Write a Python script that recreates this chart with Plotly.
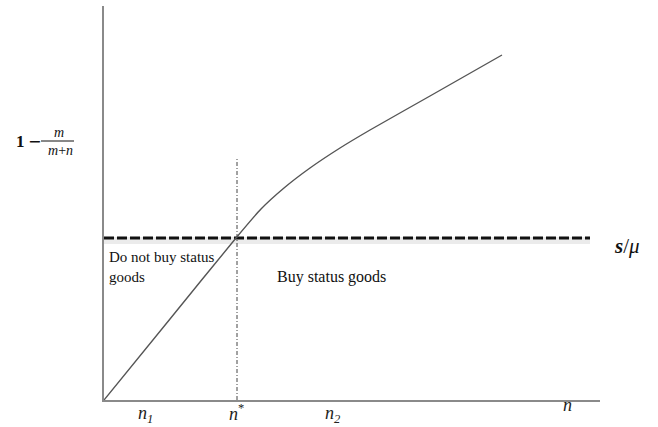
import plotly.graph_objects as go

# Curve values (n on x, 1 - m/(m+n) on y)
curve_x = [0, 66, 132, 157, 180, 206, 236, 266, 326, 398]
curve_y = [0, 81, 162, 191, 212, 232, 252, 270, 304, 345]
threshold = 162          # s/mu level
n_star = 133             # n* position
n_star_top = 242         # top of the n* guide line
x_tick_pos = [0.083, 0.268, 0.462, 0.935]      # paper fractions
x_tick_y = [-0.036, -0.031, -0.036, -0.013]
x_tick_text = ["<i>n</i><sub><i>1</i></sub>", "<i>n</i><sup>*</sup>", "<i>n</i><sub><i>2</i></sub>", "<i>n</i>"]
x_max, y_max = 496, 394
thr_end = 486

FONT = "Liberation Serif, Times New Roman, serif"

fig = go.Figure()
# shadow under dashed threshold
fig.add_trace(go.Scatter(x=[0, thr_end], y=[threshold - 2.5, threshold - 2.5], mode="lines",
                         line=dict(color="rgba(0,0,0,0.08)", width=7), hoverinfo="skip"))
fig.add_trace(go.Scatter(x=[0, thr_end], y=[threshold, threshold], mode="lines",
                         line=dict(color="#111111", width=3.2, dash="10px,3px"), hoverinfo="skip"))
fig.add_trace(go.Scatter(x=[n_star, n_star], y=[0, n_star_top], mode="lines",
                         line=dict(color="#444444", width=1, dash="4px,2px,1px,2px"), hoverinfo="skip"))
fig.add_trace(go.Scatter(x=curve_x, y=curve_y, mode="lines",
                         line=dict(color="#555555", width=1.4, shape="spline", smoothing=0.6),
                         hoverinfo="skip"))


def px_x(p):
    return (p - 104) / 496


def px_y(p):
    return (400 - p) / 394


ann = []
ann.append(dict(x=3, y=133, text="Do not buy status<br>goods", xanchor="left", yanchor="middle",
                align="left", showarrow=False, font=dict(family=FONT, size=15, color="#111")))
ann.append(dict(x=171, y=123, text="Buy status goods", xanchor="left", yanchor="middle",
                showarrow=False, font=dict(family=FONT, size=16, color="#111")))
ann.append(dict(x=px_x(627), y=px_y(246), xref="paper", yref="paper",
                text="<i><b>s</b></i>/<i>μ</i>", xanchor="center", yanchor="middle",
                showarrow=False, font=dict(family=FONT, size=21, color="#111")))
for xp, yp, t in zip(x_tick_pos, x_tick_y, x_tick_text):
    ann.append(dict(x=xp, y=yp, xref="paper", yref="paper", text=t, xanchor="center",
                    yanchor="middle", showarrow=False,
                    font=dict(family=FONT, size=18, color="#222")))

# y label: 1 - m/(m+n)
ann.append(dict(x=px_x(20.5), y=px_y(141), xref="paper", yref="paper", text="<b>1</b>",
                xanchor="center", yanchor="middle", showarrow=False,
                font=dict(family=FONT, size=17, color="#111")))
ann.append(dict(x=px_x(34), y=px_y(141), xref="paper", yref="paper", text="−",
                xanchor="center", yanchor="middle", showarrow=False,
                font=dict(family="DejaVu Sans", size=16, color="#111")))
ann.append(dict(x=px_x(59), y=px_y(132), xref="paper", yref="paper", text="<i>m</i>",
                xanchor="center", yanchor="middle", showarrow=False,
                font=dict(family=FONT, size=14, color="#111")))
ann.append(dict(x=px_x(60), y=px_y(150), xref="paper", yref="paper", text="<i>m</i>+<i>n</i>",
                xanchor="center", yanchor="middle", showarrow=False,
                font=dict(family=FONT, size=14, color="#111")))

shapes = [dict(type="line", xref="paper", yref="paper", x0=px_x(41), x1=px_x(74),
               y0=px_y(141), y1=px_y(141), line=dict(color="#111", width=1))]

fig.update_layout(
    width=658, height=427,
    margin=dict(l=104, r=58, t=6, b=27),
    paper_bgcolor="white", plot_bgcolor="white",
    showlegend=False,
    xaxis=dict(range=[0, x_max], showgrid=False, zeroline=False, showticklabels=False,
               showline=True, linecolor="#8a8a8a", linewidth=2, ticks=""),
    yaxis=dict(range=[0, y_max], showgrid=False, zeroline=False, showticklabels=False,
               showline=True, linecolor="#8a8a8a", linewidth=2, ticks=""),
    annotations=ann, shapes=shapes,
)
fig.write_html("out.html", config={"displayModeBar": False},
               post_script="document.body.style.margin='0';")
